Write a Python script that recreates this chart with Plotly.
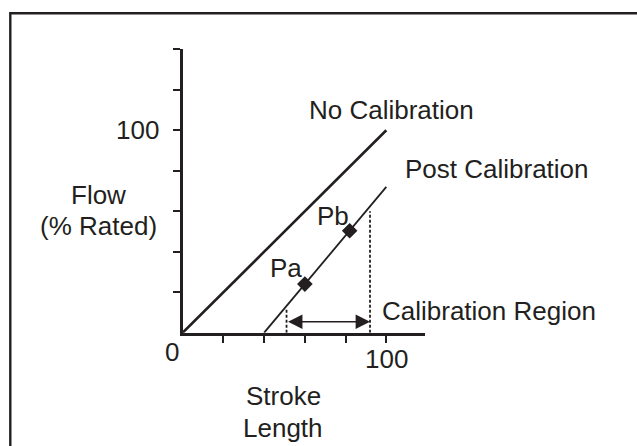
import plotly.graph_objects as go

# Flow vs. stroke length, before and after calibration
no_cal_x = [0, 100]
no_cal_y = [0, 100]
post_cal_x = [40, 100]
post_cal_y = [0, 72]

point_names = ["Pa", "Pb"]
point_x = [60, 82]
point_y = [24, 50.4]

region_x = [51, 92]          # calibration region bounds (stroke %)
region_top_y = [12, 60]      # height of the dotted bound lines
region_arrow_y = 5.4

x_ticks = [20, 40, 60, 80, 100]
y_ticks = [20, 40, 60, 80, 100, 120, 140]

INK = "#231f20"
FONT = "Liberation Sans, Arial, sans-serif"
FS = 26
W, H = 637, 446

fig = go.Figure()

fig.add_trace(go.Scatter(x=no_cal_x, y=no_cal_y, mode="lines",
                         line=dict(color=INK, width=2.6), hoverinfo="skip"))
fig.add_trace(go.Scatter(x=post_cal_x, y=post_cal_y, mode="lines",
                         line=dict(color=INK, width=1.8), hoverinfo="skip"))
for xv, yv in zip(region_x, region_top_y):
    fig.add_trace(go.Scatter(x=[xv, xv], y=[0, yv], mode="lines",
                             line=dict(color=INK, width=1.8, dash="3px,2px"),
                             hoverinfo="skip"))
fig.add_trace(go.Scatter(x=point_x, y=point_y, mode="markers",
                         marker=dict(symbol="diamond", size=12, color=INK),
                         hoverinfo="skip"))

# double-headed arrow spanning the calibration region
fig.add_annotation(x=region_x[1], y=region_arrow_y, ax=region_x[0], ay=region_arrow_y,
                   xref="x", yref="y", axref="x", ayref="y", text="",
                   showarrow=True, arrowhead=2, arrowside="end+start",
                   arrowsize=1.8, arrowwidth=1.6, arrowcolor=INK, standoff=0, startstandoff=0)


def label(text, x, y, xanchor="center", yanchor="middle"):
    fig.add_annotation(x=x, y=y, xref="x", yref="y", text=text, showarrow=False,
                       xanchor=xanchor, yanchor=yanchor,
                       font=dict(family=FONT, size=FS, color=INK))


def page_label(text, px, py, xanchor="center"):
    # placed on the page, outside the axis ranges
    fig.add_annotation(x=px / W, y=1 - py / H, xref="paper", yref="paper", text=text,
                       showarrow=False, xanchor=xanchor, yanchor="middle",
                       font=dict(family=FONT, size=FS, color=INK))


label("No Calibration", 60.9, 110, xanchor="left")
label("Post Calibration", 108, 81, xanchor="left")
label("Calibration Region", 96.9, 10.7, xanchor="left")
label(point_names[0], 50.7, 32)
label(point_names[1], 73.8, 57.7)

page_label("100", 161, 130, xanchor="right")
page_label("0", 172, 352)
page_label("100", 386, 359)
page_label("Flow", 98, 195)
page_label("(% Rated)", 98, 226)
page_label("Stroke", 283, 396)
page_label("Length", 283, 428)

# outer frame
fig.add_shape(type="rect", xref="paper", yref="paper",
              x0=10.3 / W, x1=1.05, y0=-0.05, y1=1 - 13.3 / H,
              line=dict(color=INK, width=2.4))

fig.update_layout(
    width=W, height=H, margin=dict(l=0, r=0, t=0, b=0),
    paper_bgcolor="white", plot_bgcolor="white", showlegend=False,
    xaxis=dict(domain=[182.7 / W, 425 / W], range=[0, 119], showgrid=False,
               zeroline=False, showline=True, linecolor=INK, linewidth=2.6,
               ticks="outside", tickvals=x_ticks, ticklen=7, tickwidth=2.2,
               tickcolor=INK, showticklabels=False, fixedrange=True),
    yaxis=dict(domain=[(H - 332.7) / H, (H - 49.3) / H], range=[0, 140], showgrid=False,
               zeroline=False, showline=True, linecolor=INK, linewidth=2.6,
               ticks="outside", tickvals=y_ticks, ticklen=7, tickwidth=2.2,
               tickcolor=INK, showticklabels=False, fixedrange=True),
)

fig.write_html("out.html")
